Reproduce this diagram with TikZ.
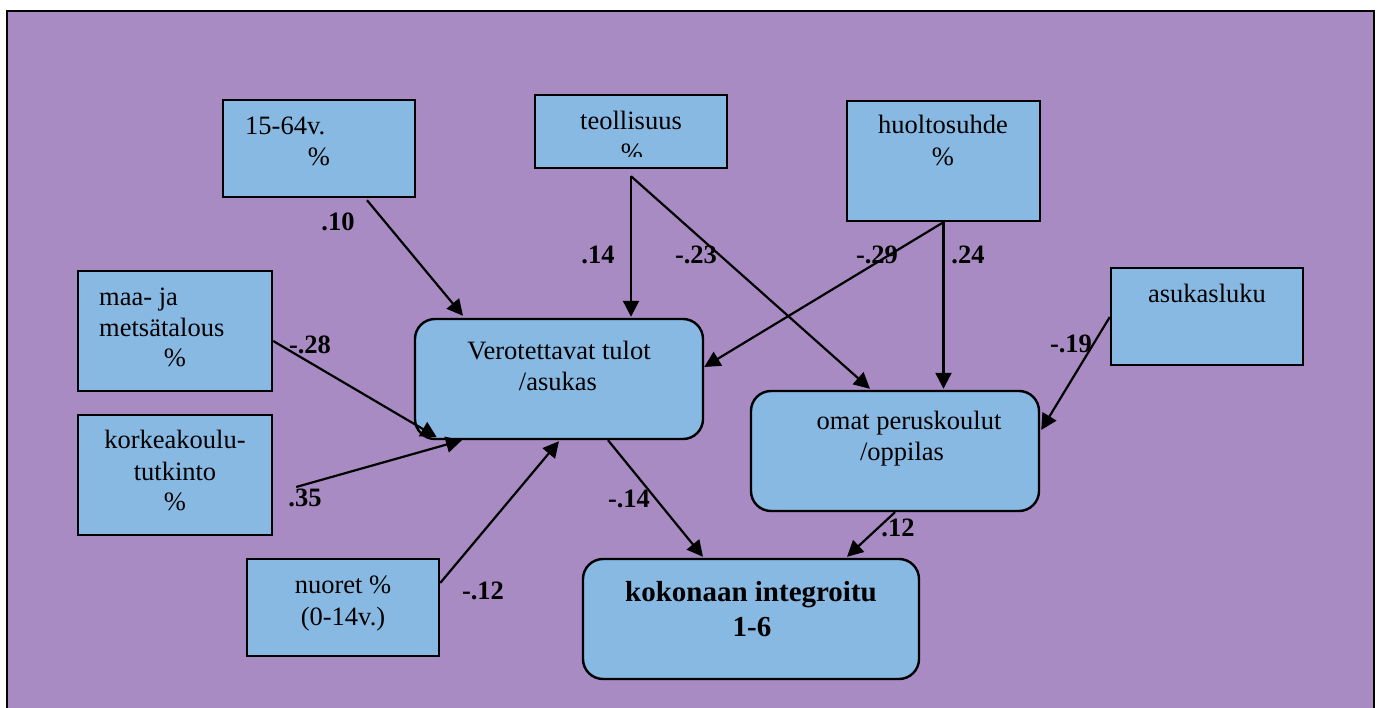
\documentclass[tikz,border=0pt]{standalone}
\usepackage{fontspec}
\setmainfont{Liberation Serif}
\usetikzlibrary{arrows.meta}
\definecolor{panelpurple}{RGB}{169,139,195}
\definecolor{boxblue}{RGB}{136,185,227}
\begin{document}
\begin{tikzpicture}[x=1pt,y=-1pt,
  varbox/.style={draw=black,line width=2.4pt,fill=boxblue,inner sep=0pt},
  squarebox/.style={varbox,rectangle},
  roundbox/.style={varbox,rectangle,rounded corners=20pt},
  txt/.style={inner sep=0pt,font=\fontsize{26.5}{31}\selectfont},
  coef/.style={inner sep=0pt,font=\fontsize{26.5}{31}\selectfont\bfseries},
  path/.style={draw=black,line width=2.2pt,-{Triangle[length=16pt,width=16pt]}}]
\useasboundingbox (0,0) rectangle (1377,708);
\fill[white] (0,0) rectangle (1377,708);
% panel
\draw[fill=panelpurple,line width=2.4pt] (7,11) rectangle (1374,740);

% predictor boxes
\node[squarebox,minimum width=192pt,minimum height=97pt] (age) at (319,148.5) {};
\node[squarebox,minimum width=192pt,minimum height=73pt] (ind) at (631,131.5) {};
\node[squarebox,minimum width=193pt,minimum height=120pt] (dep) at (943.5,161) {};
\node[squarebox,minimum width=192pt,minimum height=97pt] (pop) at (1207,316.5) {};
\node[squarebox,minimum width=194pt,minimum height=120pt] (agr) at (175,331) {};
\node[squarebox,minimum width=194pt,minimum height=120pt] (edu) at (175,475) {};
\node[squarebox,minimum width=192pt,minimum height=97pt] (yng) at (343,607.5) {};

% mediators and outcome
\node[roundbox,minimum width=288pt,minimum height=120pt] (inc) at (559,379) {};
\node[roundbox,minimum width=288pt,minimum height=120pt] (sch) at (895,451) {};
\node[roundbox,minimum width=336pt,minimum height=120pt] (tot) at (751,619) {};

% box texts
\node[txt,anchor=base west] (ageA) at (245,135) {15-64v.};
\node[txt,anchor=base] (ageB) at (319,166) {\%};
\node[txt,anchor=base] (indA) at (631,130) {teollisuus};
\begin{scope}
  \clip (535,95) rectangle (727,157);
  \node[txt,anchor=base] (indB) at (632,162) {\%};
\end{scope}
\node[txt,anchor=base] (depA) at (943,134) {huoltosuhde};
\node[txt,anchor=base] (depB) at (943,166) {\%};
\node[txt,anchor=base] (popA) at (1207,303) {asukasluku};
\node[txt,anchor=base west] (agrA) at (99,306) {maa- ja};
\node[txt,anchor=base west] (agrB) at (99,337) {metsätalous};
\node[txt,anchor=base] (agrC) at (175,367) {\%};
\node[txt,anchor=base] (eduA) at (175,449) {korkeakoulu-};
\node[txt,anchor=base] (eduB) at (175,481) {tutkinto};
\node[txt,anchor=base] (eduC) at (175,511) {\%};
\node[txt,anchor=base] (yngA) at (343,593) {nuoret \%};
\node[txt,anchor=base] (yngB) at (343,625) {(0-14v.)};
\node[txt,anchor=base] (incA) at (559,360) {Verotettavat tulot};
\node[txt,anchor=base] (incB) at (558,391) {/asukas};
\node[txt,anchor=base] (schA) at (909,430) {omat peruskoulut};
\node[txt,anchor=base] (schB) at (902,461) {/oppilas};
\node[txt,anchor=base,font=\fontsize{29}{34}\selectfont\bfseries] (totA) at (751,601) {kokonaan integroitu};
\node[txt,anchor=base,font=\fontsize{29}{34}\selectfont\bfseries] (totB) at (752,636) {1-6};

% paths
\draw[path] ([xshift=48pt,yshift=-2pt]age.south) -- ([xshift=-96pt,yshift=2pt]inc.north);
\draw[path] ([yshift=-7pt]ind.south) -- ([xshift=72pt,yshift=1pt]inc.north);
\draw[path] ([yshift=-7pt]ind.south) -- ([xshift=-25pt,yshift=1pt]sch.north);
\draw[path] (dep.south) -- ([yshift=12pt]inc.east);
\draw[path] (dep.south) -- ([xshift=48.5pt,yshift=1pt]sch.north);
\draw[path] ([yshift=-0.5pt]pop.west) -- ([xshift=1pt,yshift=21pt]sch.east);
\draw[path] ([yshift=-10pt]agr.east) -- ([xshift=23pt,yshift=3pt]inc.south west);
\draw[path] ([xshift=23pt,yshift=-12pt]edu.east) -- ([xshift=-97pt]inc.south);
\draw[path] ([yshift=24.5pt]yng.east) -- ([yshift=-1pt]inc.south);
\draw[path] ([xshift=49pt]inc.south) -- ([xshift=-48pt,yshift=1pt]tot.north);
\draw[path] (sch.south) -- ([xshift=96pt,yshift=1pt]tot.north);

% path coefficients
\node[coef] (c1) at (338,222) {.10};
\node[coef] (c2) at (598,255) {.14};
\node[coef] (c3) at (696,255) {-.23};
\node[coef] (c4) at (877,255) {-.29};
\node[coef] (c5) at (968,255) {.24};
\node[coef] (c6) at (1071,344) {-.19};
\node[coef] (c7) at (310,345) {-.28};
\node[coef] (c8) at (305,498) {.35};
\node[coef] (c9) at (483,591) {-.12};
\node[coef] (c10) at (629,499) {-.14};
\node[coef] (c11) at (898,528) {.12};
\end{tikzpicture}
\end{document}
